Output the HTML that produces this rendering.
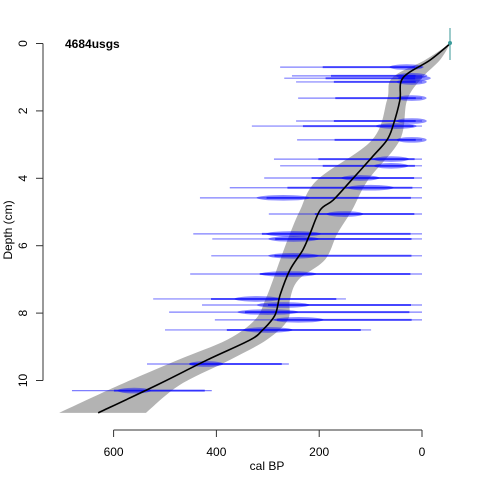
<!DOCTYPE html>
<html><head><meta charset="utf-8"><style>
body{margin:0;background:#fff}
svg{display:block;font-family:"Liberation Sans",sans-serif}
</style></head><body>
<svg id="c" width="480" height="480">
<g id="env"></g>
<g id="dates"></g>
<g id="med"></g>
<g id="axes"></g>
<text x="65" y="48" font-size="12" font-weight="bold">4684usgs</text>
<text x="267" y="470" font-size="12" text-anchor="middle">cal BP</text>
<text transform="translate(12,230) rotate(-90)" font-size="12" text-anchor="middle">Depth (cm)</text>
</svg>
<script>
const envDepth=[0,0.49,1.02,1.68,2.86,4.05,4.94,5.65,6.42,7.02,7.61,8.2,8.79,9.39,10.13,10.96];
const envOld=[-55,-6,58,68,97,204,237,257,276,290,305,325,379,475,588,706];
const envYoung=[-55,-35,0,29,43,105,136,165,189,241,257,261,302,374,471,537];
const medDepth=[0,0.49,1.02,1.68,2.42,2.86,3.37,4.1,4.65,4.94,5.65,6.13,6.72,7.46,8.06,8.5,8.8,9.39,10.13,10.96];
const medAge=[-55,-16,37,43,56,68,97,140,173,198,218,232,257,276,286,310,335,418,515,630];
const dateDepth=[0.70,0.96,1.03,1.14,1.62,2.30,2.45,2.86,3.43,3.63,3.99,4.28,4.58,5.06,5.65,5.80,6.30,6.84,7.58,7.76,7.97,8.2,8.5,9.51,10.3];
const dateMin=[0,0,0,0,0,0,0,0,0,0,0,0,0,0,0,0,0,0,148,0,0,0,99,259,409];
const dateMax=[276,253,268,245,241,245,331,243,288,276,307,374,432,298,445,408,410,451,523,428,492,403,500,535,681];
const datePeak=[30,20,15,20,20,20,50,20,60,60,120,100,270,150,250,250,250,260,320,270,300,240,300,420,560];
const xTicks=[600,400,200,0];
const yTicks=[0,2,4,6,8,10];
const X=v=>422-0.514*v, Y=d=>43.5+33.7*d;
const NS='http://www.w3.org/2000/svg';
function mk(t,a,p){const e=document.createElementNS(NS,t);for(const k in a)e.setAttribute(k,a[k]);p.appendChild(e);return e;}
function spline(p,start){let s=start?'M'+p[0][0]+','+p[0][1]:'L'+p[0][0]+','+p[0][1];
  for(let i=0;i<p.length-1;i++){const a=p[i-1]||p[i],b=p[i],c=p[i+1],d=p[i+2]||c;
    s+=' C'+(b[0]+(c[0]-a[0])/6)+','+(b[1]+(c[1]-a[1])/6)+' '+(c[0]-(d[0]-b[0])/6)+','+(c[1]-(d[1]-b[1])/6)+' '+c[0]+','+c[1];}
  return s;}
const oldP=envDepth.map((d,i)=>[X(envOld[i]),Y(d)]);
const youngP=envDepth.map((d,i)=>[X(envYoung[i]),Y(d)]).reverse();
let poly=mk('path',{d:spline(oldP,true)+' '+spline(youngP,false)+' Z',fill:'#b3b3b3'},document.getElementById('env'));


const dg=document.getElementById('dates');
dateDepth.forEach((d,i)=>{
  const y=Y(d),x1=X(dateMax[i]),x2=X(dateMin[i]),span=x2-x1,px=X(datePeak[i]);
  let l=mk('line',{x1:x1,x2:x2,y1:y,y2:y,stroke:'rgba(0,0,255,0.5)','stroke-width':1.2},dg);
  
  
  let l2=mk('line',{x1:x1+span*0.3,x2:x2-span*0.05,y1:y,y2:y,stroke:'rgba(0,0,255,0.6)','stroke-width':2},dg);
  
  
  let e=mk('ellipse',{cx:px,cy:y,rx:Math.max(8,span*0.12),ry:2.8,fill:'rgba(0,0,255,0.45)'},dg);
  
  
});
let ml=mk('path',{d:spline(medDepth.map((d,i)=>[X(medAge[i]),Y(d)]),true),fill:'none',stroke:'#000','stroke-width':1.6},document.getElementById('med'));


const ag=document.getElementById('axes');
let tl=mk('line',{x1:450,x2:450,y1:28,y2:60,stroke:'#5aa8a8','stroke-width':1.2},ag);


let tp=mk('circle',{cx:450,cy:43,r:2,fill:'#3a9a9a'},ag);


let xa=mk('line',{x1:X(600),x2:X(0),y1:430,y2:430,stroke:'#333'},ag);


xTicks.forEach(v=>{
  let t=mk('line',{x1:X(v),x2:X(v),y1:430,y2:437,stroke:'#333'},ag);
  
  
  let s=mk('text',{x:X(v),y:456,'font-size':12,'text-anchor':'middle'},ag);s.textContent=v;
  
  
});
let ya=mk('line',{x1:43,x2:43,y1:Y(0),y2:Y(10),stroke:'#333'},ag);


yTicks.forEach(v=>{
  let t=mk('line',{x1:36,x2:43,y1:Y(v),y2:Y(v),stroke:'#333'},ag);
  
  
  let s=mk('text',{transform:'translate(27,'+Y(v)+') rotate(-90)','font-size':12,'text-anchor':'middle'},ag);s.textContent=v;
  
  
});
</script>
</body></html>
